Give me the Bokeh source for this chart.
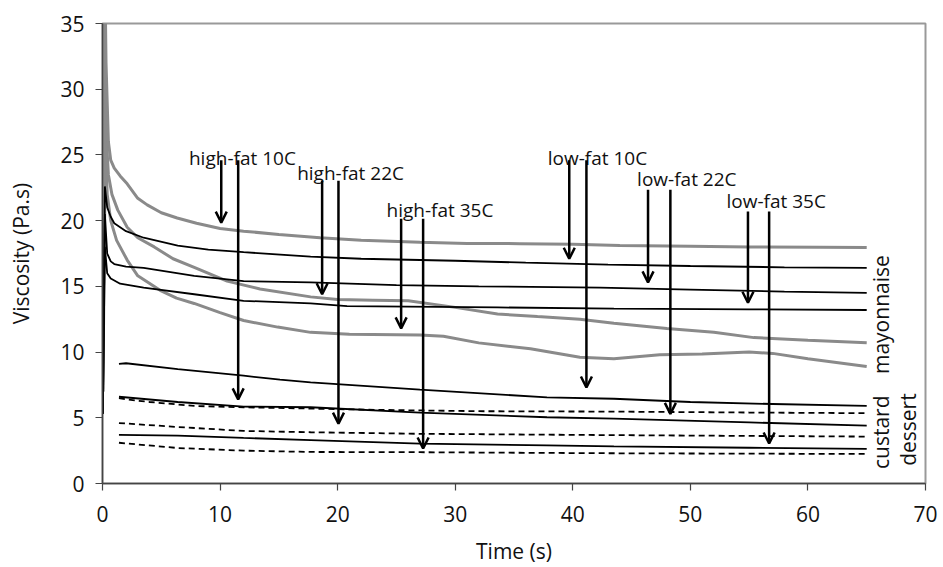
import math
from bokeh.plotting import figure
from bokeh.models import Arrow, OpenHead, Range1d, FixedTicker
from bokeh.core.properties import value
from bokeh.embed import file_html
from bokeh.resources import INLINE

FONT = "Open Sans"

# ---- mayonnaise, grey curves ----
g1_t = [0.03, 0.12, 0.3, 0.5, 0.7, 1.0, 1.5, 2.1, 3.0, 3.8, 5.0, 6.35, 8, 10, 12, 15, 18.5, 22, 27, 31, 35.5, 40, 44, 50, 55, 61, 65]
g1_v = [7.0, 45.0, 32.0, 26.0, 24.6, 24.0, 23.4, 22.8, 21.7, 21.2, 20.6, 20.2, 19.8, 19.4, 19.2, 18.95, 18.7, 18.5, 18.35, 18.27, 18.25, 18.2, 18.1, 18.05, 18.0, 17.97, 17.95]

g2_t = [0.03, 0.2, 0.35, 0.5, 0.8, 1.3, 2.1, 3.0, 4.4, 6.0, 7.8, 10.6, 13.4, 17.7, 20, 23, 26, 30, 33.6, 37, 40.6, 43.5, 48, 52, 55.4, 60, 65]
g2_v = [7.0, 30.9, 26.0, 23.5, 22.0, 20.8, 19.5, 18.7, 18.0, 17.1, 16.45, 15.4, 14.8, 14.2, 14.0, 13.95, 13.9, 13.4, 12.9, 12.7, 12.5, 12.2, 11.8, 11.5, 11.1, 10.9, 10.7]

g3_t = [0.03, 0.25, 0.4, 0.7, 1.2, 2.1, 3.0, 4.9, 6.3, 7.8, 10, 12, 14.9, 17.7, 21, 27, 29, 32, 36.4, 40.6, 43.5, 47.4, 51, 55, 57, 60, 65]
g3_v = [7.0, 26.0, 22.0, 20.0, 18.5, 17.0, 15.8, 14.7, 14.1, 13.7, 13.0, 12.4, 11.9, 11.5, 11.35, 11.3, 11.2, 10.7, 10.25, 9.6, 9.5, 9.8, 9.85, 10.0, 9.9, 9.5, 8.9]

# ---- mayonnaise, black curves ----
b1_t = [0.03, 0.2, 0.4, 0.7, 1.0, 2.0, 3.5, 6.4, 9, 12, 17.7, 22, 30, 36, 43, 50, 58, 65]
b1_v = [5.3, 22.6, 21.0, 20.3, 19.8, 19.2, 18.7, 18.1, 17.8, 17.6, 17.26, 17.1, 16.95, 16.8, 16.65, 16.55, 16.45, 16.4]

b2_t = [0.03, 0.2, 0.4, 0.7, 1.0, 2.0, 3.5, 7.8, 12, 17.7, 25, 32, 42.3, 50, 58, 65]
b2_v = [5.3, 20.5, 17.5, 16.9, 16.7, 16.5, 16.4, 15.8, 15.4, 15.3, 15.1, 15.0, 14.9, 14.75, 14.6, 14.5]

b3_t = [0.03, 0.2, 0.4, 0.7, 1.5, 3.5, 7.8, 12, 17.7, 20.8, 33.6, 43.5, 55, 65]
b3_v = [5.3, 18.0, 16.0, 15.6, 15.2, 14.9, 14.4, 13.9, 13.7, 13.5, 13.4, 13.3, 13.25, 13.2]

# ---- custard (solid) ----
c1_t = [1.4, 2.0, 6.4, 12, 15.1, 17.7, 27, 37.8, 43.5, 50, 57, 65]
c1_v = [9.1, 9.15, 8.7, 8.2, 7.9, 7.7, 7.15, 6.55, 6.45, 6.2, 6.05, 5.9]
c2_t = [1.4, 6.4, 12, 17.7, 27, 37.8, 43.5, 55, 65]
c2_v = [6.6, 6.2, 5.85, 5.8, 5.4, 5.04, 4.94, 4.65, 4.4]
c3_t = [1.4, 6.4, 12, 17.7, 27, 37.8, 43.5, 55, 65]
c3_v = [3.7, 3.65, 3.47, 3.3, 3.04, 2.9, 2.82, 2.72, 2.63]

# ---- dessert (dashed) ----
d1_t = [1.4, 2.0, 4.0, 7.8, 12, 17.7, 23.6, 32, 43.5, 55, 65]
d1_v = [6.5, 6.4, 6.2, 5.9, 5.8, 5.7, 5.6, 5.5, 5.47, 5.4, 5.35]
d2_t = [1.4, 6.4, 12, 17.7, 27, 43.5, 55, 65]
d2_v = [4.6, 4.3, 4.0, 3.9, 3.78, 3.68, 3.62, 3.57]
d3_t = [1.4, 6.4, 12, 17.7, 27, 43.5, 55, 65]
d3_v = [3.1, 2.7, 2.5, 2.4, 2.38, 2.3, 2.27, 2.25]

# ---- annotations ----
ann_labels = ["high-fat 10C", "high-fat 22C", "high-fat 35C", "low-fat 10C", "low-fat 22C", "low-fat 35C"]
ann_label_x = [11.9, 21.1, 28.7, 42.1, 49.7, 57.3]
ann_label_y = [24.8, 23.65, 20.8, 24.8, 23.2, 21.5]
arrow_short_x = [10.1, 18.68, 25.4, 39.7, 46.4, 54.9]
arrow_long_x = [11.54, 20.07, 27.27, 41.16, 48.3, 56.7]
arrow_top_y = [24.6, 23.04, 20.15, 24.6, 22.36, 20.7]
arrow_short_end = [19.85, 14.4, 11.8, 17.1, 15.3, 13.75]
arrow_long_end = [6.4, 4.56, 2.66, 7.3, 5.3, 3.04]

side_labels = ["mayonnaise", "custard", "dessert"]
side_x = [66.2, 66.2, 68.5]
side_y = [12.85, 3.9, 4.1]

x_ticks = [0, 10, 20, 30, 40, 50, 60, 70]
y_ticks = [0, 5, 10, 15, 20, 25, 30, 35]

p = figure(width=943, height=567, output_backend="svg", toolbar_location=None,
           x_range=Range1d(0, 70), y_range=Range1d(0, 35),
           min_border_left=102, min_border_right=18, min_border_top=23, min_border_bottom=84)
p.background_fill_color = "white"
p.border_fill_color = "white"
p.outline_line_color = "#999999"
p.outline_line_width = 2
p.xgrid.visible = False
p.ygrid.visible = False

for ax in (p.xaxis[0], p.yaxis[0]):
    ax.axis_line_color = "#444444"
    ax.axis_line_width = 1.5
    ax.major_tick_line_color = "#444444"
    ax.major_tick_line_width = 1.2
    ax.major_tick_in = 0
    ax.major_tick_out = 7
    ax.minor_tick_line_color = None
    ax.major_label_text_font = FONT
    ax.major_label_text_font_size = "21px"
    ax.major_label_text_color = "#111111"
    ax.axis_label_text_font = FONT
    ax.axis_label_text_font_size = "21px"
    ax.axis_label_text_font_style = "normal"
    ax.axis_label_text_color = "#111111"

p.xaxis.ticker = FixedTicker(ticks=x_ticks)
p.yaxis.ticker = FixedTicker(ticks=y_ticks)
p.xaxis.axis_label = "Time (s)"
p.yaxis.axis_label = "Viscosity (Pa.s)"
p.xaxis.major_label_standoff = 15
p.xaxis.axis_label_standoff = 12
p.yaxis.major_label_standoff = 11
p.yaxis.axis_label_standoff = 22

GRAY = "#8a8a8a"
for t, v in [(g1_t, g1_v), (g2_t, g2_v), (g3_t, g3_v)]:
    p.line(t, v, line_color=GRAY, line_width=3)
for t, v in [(b1_t, b1_v), (b2_t, b2_v), (b3_t, b3_v), (c1_t, c1_v), (c2_t, c2_v), (c3_t, c3_v)]:
    p.line(t, v, line_color="black", line_width=1.8)
for t, v in [(d1_t, d1_v), (d2_t, d2_v), (d3_t, d3_v)]:
    p.line(t, v, line_color="black", line_width=1.8, line_dash="6 4")

for i in range(len(ann_labels)):
    for ax_, ay_end in [(arrow_short_x[i], arrow_short_end[i]), (arrow_long_x[i], arrow_long_end[i])]:
        p.add_layout(Arrow(end=OpenHead(size=11, line_width=2.5, line_color="black"),
                           x_start=ax_, y_start=arrow_top_y[i], x_end=ax_, y_end=ay_end,
                           line_width=2.5, line_color="black"))

p.text(x=ann_label_x, y=ann_label_y, text=ann_labels, text_font=value(FONT),
       text_font_size="19px", text_align="center", text_baseline="alphabetic", text_color="#111111")

p.text(x=side_x, y=side_y, text=side_labels, angle=math.pi / 2, text_font=value(FONT),
       text_font_size="21px", text_align="center", text_baseline="middle", text_color="#111111")

open("out.html", "w").write(file_html(p, INLINE))
